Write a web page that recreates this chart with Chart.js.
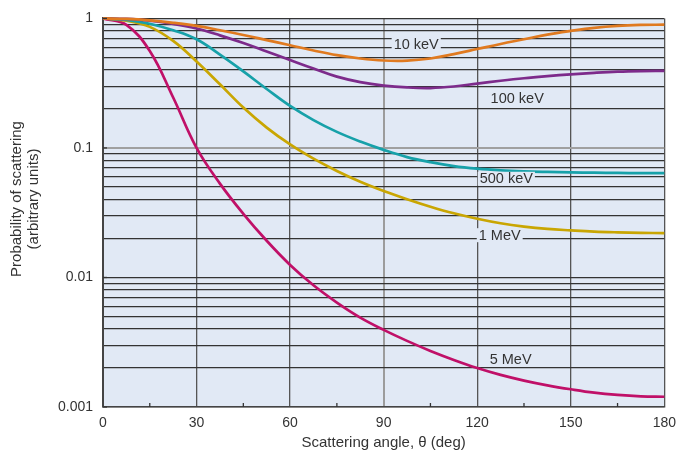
<!DOCTYPE html>
<html>
<head>
<meta charset="utf-8">
<script src="https://cdn.jsdelivr.net/npm/chart.js@4.4.1/dist/chart.umd.min.js"></script>
<style>
  html, body { margin: 0; padding: 0; background: #fff; }
  #wrap { width: 684px; height: 451px; }
</style>
</head>
<body>
<div id="wrap"><canvas id="scatter"></canvas></div>
<script>
// data
const angles = [0, 7.5, 15, 22.5, 30, 37.5, 45, 52.5, 60, 67.5, 75, 82.5, 90,
  97.5, 105, 112.5, 120, 127.5, 135, 142.5, 150, 157.5, 165, 172.5, 180];

const kev10 = [1, 0.99, 0.965, 0.925, 0.875, 0.81, 0.745, 0.68, 0.62, 0.565, 0.52, 0.49, 0.473,
  0.472, 0.49, 0.53, 0.58, 0.635, 0.69, 0.75, 0.80, 0.845, 0.875, 0.89, 0.895];
const kev100 = [1, 0.99, 0.96, 0.905, 0.835, 0.74, 0.645, 0.555, 0.477, 0.41, 0.355, 0.322, 0.303,
  0.293, 0.29, 0.298, 0.314, 0.33, 0.345, 0.358, 0.37, 0.38, 0.388, 0.392, 0.393];
const kev500 = [1, 0.975, 0.91, 0.81, 0.69, 0.525, 0.39, 0.285, 0.211, 0.164, 0.133, 0.112, 0.0966,
  0.085, 0.0776, 0.0724, 0.0692, 0.0672, 0.066, 0.0653, 0.0648, 0.0644, 0.0641, 0.0639, 0.0638];
const mev1 = [1, 0.96, 0.86, 0.67, 0.465, 0.31, 0.205, 0.1436, 0.1064, 0.0826, 0.0664, 0.0548, 0.0465,
  0.0402, 0.0352, 0.0313, 0.0284, 0.0262, 0.0247, 0.0237, 0.0231, 0.0226, 0.0223, 0.0221, 0.022];
const mev5 = [1, 0.89, 0.56, 0.245, 0.1, 0.053, 0.031, 0.0192, 0.0125, 0.0087, 0.0064, 0.0049, 0.00394,
  0.00324, 0.00271, 0.00231, 0.002, 0.00177, 0.0016, 0.00147, 0.00137, 0.00129, 0.00124, 0.00121, 0.0012];

const seriesNames = ["10 keV", "100 keV", "500 keV", "1 MeV", "5 MeV"];
const seriesColors = ["#e07a20", "#7d2b8b", "#17a1a9", "#c9a602", "#c01068"];

const xTicks = [0, 30, 60, 90, 120, 150, 180];
const xMinorTicks = [15, 45, 75, 105, 135, 165];
const yDecades = [0.001, 0.01, 0.1, 1];

// where the curve names sit (angle, value of the text's left-middle point)
const labelSpots = [
  [93.2, 0.629],
  [124.3, 0.241],
  [120.8, 0.0578],
  [120.5, 0.0212],
  [124, 0.00233],
];

const FONT = '"Liberation Sans", Arial, sans-serif';
const TEXT = "#333";
const PLOT_BG = "#e1e9f5";

const isDecade = v => yDecades.some(d => Math.abs(v / d - 1) < 1e-6);

const extras = {
  id: "extras",
  beforeDraw(chart) {
    const { ctx, chartArea: a } = chart;
    ctx.save();
    ctx.fillStyle = PLOT_BG;
    ctx.fillRect(a.left, a.top, a.right - a.left, a.bottom - a.top);
    ctx.restore();
  },
  afterDatasetsDraw(chart) {
    const { ctx, chartArea: a, scales } = chart;
    ctx.save();
    // small ticks at bottom and left
    ctx.strokeStyle = "#333";
    ctx.lineWidth = 1.3;
    xMinorTicks.forEach(v => {
      const x = scales.x.getPixelForValue(v);
      ctx.beginPath();
      ctx.moveTo(x, a.bottom);
      ctx.lineTo(x, a.bottom - 4);
      ctx.stroke();
    });
    yDecades.forEach(v => {
      const y = scales.y.getPixelForValue(v);
      ctx.beginPath();
      ctx.moveTo(a.left, y);
      ctx.lineTo(a.left + 4, y);
      ctx.stroke();
    });

    // curve names with a box hiding the grid behind
    ctx.font = "14.5px " + FONT;
    ctx.textBaseline = "middle";
    ctx.textAlign = "left";
    seriesNames.forEach((name, i) => {
      const x = scales.x.getPixelForValue(labelSpots[i][0]);
      const y = scales.y.getPixelForValue(labelSpots[i][1]);
      const w = ctx.measureText(name).width;
      ctx.fillStyle = PLOT_BG;
      ctx.fillRect(x - 2, y - 7, w + 4, 14);
      ctx.fillStyle = TEXT;
      ctx.fillText(name, x, y + 0.5);
    });

    // axis titles
    ctx.font = "15px " + FONT;
    ctx.textAlign = "center";
    ctx.fillText("Scattering angle, \u03b8 (deg)", (a.left + a.right) / 2, 443);
    ctx.translate(17, 199);
    ctx.rotate(-Math.PI / 2);
    ctx.fillText("Probability of scattering", 0, 0);
    ctx.fillText("(arbitrary units)", 0, 17);
    ctx.restore();
  },
};

const allSeries = [kev10, kev100, kev500, mev1, mev5];

new Chart(document.getElementById("scatter"), {
  type: "line",
  data: {
    datasets: allSeries.map((vals, i) => ({
      label: seriesNames[i],
      data: angles.map((a, j) => ({ x: a, y: vals[j] })),
      borderColor: seriesColors[i],
      borderWidth: 2.7,
      pointRadius: 0,
      tension: 0.4,
      clip: 4,
    })),
  },
  options: {
    responsive: true,
    maintainAspectRatio: false,
    animation: false,
    layout: { padding: { top: 16.5, right: 15, left: 0, bottom: 0 } },
    plugins: {
      legend: { display: false },
      tooltip: { enabled: false },
    },
    scales: {
      x: {
        type: "linear",
        min: 0,
        max: 180,
        afterBuildTicks: s => { s.ticks = xTicks.map(v => ({ value: v })); },
        afterFit: s => { s.height = 44; },
        ticks: {
          color: TEXT,
          padding: 8,
          font: { family: FONT, size: 14 },
        },
        grid: {
          drawTicks: false,
          color: c => (c.tick && c.tick.value === 90 ? "#9c9c9c" : "#555"),
          lineWidth: c => (c.tick && c.tick.value === 90 ? 2 : 1.3),
        },
        border: { color: "#444", width: 1.5 },
      },
      y: {
        type: "logarithmic",
        min: 0.001,
        max: 1,
        afterBuildTicks: s => {
          const t = [];
          yDecades.slice(0, 3).forEach(d => {
            for (let m = 1; m < 10; m++) t.push({ value: d * m });
          });
          t.push({ value: 1 });
          s.ticks = t;
        },
        afterFit: s => { s.width = 103; },
        ticks: {
          color: TEXT,
          padding: 10,
          autoSkip: false,
          font: { family: FONT, size: 14 },
          callback: v => (isDecade(v) ? String(+v.toPrecision(3)) : ""),
        },
        grid: {
          drawTicks: false,
          color: c => (c.tick && Math.abs(c.tick.value - 0.1) < 1e-9 ? "#a0a0a0" : "#333"),
          lineWidth: c => (c.tick && Math.abs(c.tick.value - 0.1) < 1e-9 ? 2 : 1.2),
        },
        border: { color: "#444", width: 2 },
      },
    },
  },
  plugins: [extras],
});
</script>
</body>
</html>
